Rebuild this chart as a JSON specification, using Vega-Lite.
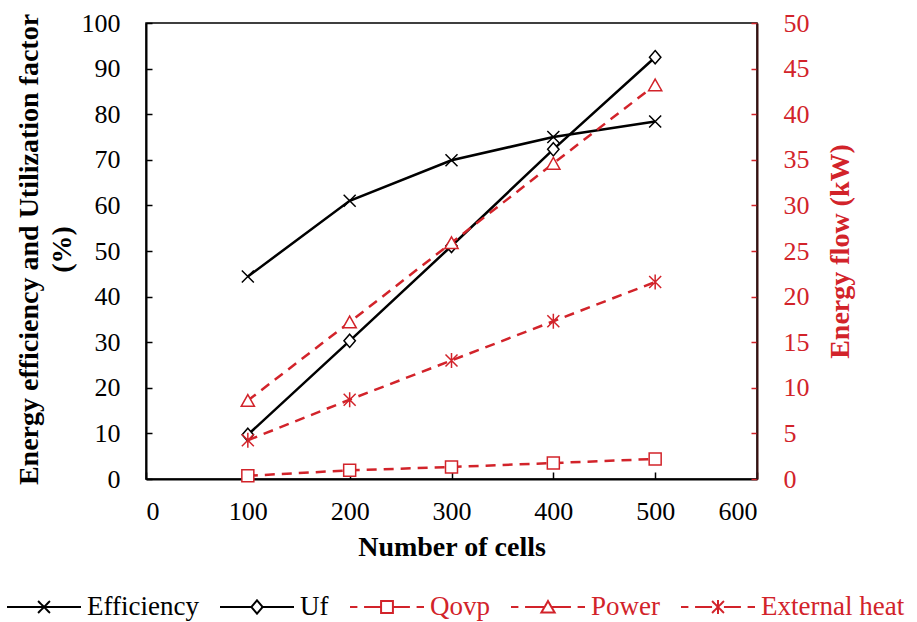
{
  "$schema": "https://vega.github.io/schema/vega-lite/v6.json",
  "width": 611,
  "height": 456,
  "autosize": "none",
  "padding": {"left": 146, "top": 23, "right": 160, "bottom": 143},
  "config": {
    "font": "Liberation Serif",
    "view": {"stroke": "black", "strokeWidth": 1.5},
    "axis": {"grid": false, "labelFont": "Liberation Serif", "titleFont": "Liberation Serif", "labelFontSize": 26, "titleFontSize": 28, "titleFontWeight": "bold", "labelColor": "black", "titleColor": "black", "domainColor": "black", "tickColor": "black", "domainWidth": 2, "tickWidth": 1.5},
    "legend": {"labelFont": "Liberation Serif", "labelFontSize": 27}
  },
  "datasets": {
    "left": [
      {"cells": 100, "series": "Efficiency", "value": 44.4},
      {"cells": 200, "series": "Efficiency", "value": 61.0},
      {"cells": 300, "series": "Efficiency", "value": 69.9},
      {"cells": 400, "series": "Efficiency", "value": 75.0},
      {"cells": 500, "series": "Efficiency", "value": 78.4},
      {"cells": 100, "series": "Uf", "value": 9.7},
      {"cells": 200, "series": "Uf", "value": 30.3},
      {"cells": 300, "series": "Uf", "value": 51.1},
      {"cells": 400, "series": "Uf", "value": 72.3},
      {"cells": 500, "series": "Uf", "value": 92.5}
    ],
    "right": [
      {"cells": 100, "series": "Qovp", "value": 0.35},
      {"cells": 200, "series": "Qovp", "value": 0.95},
      {"cells": 300, "series": "Qovp", "value": 1.32},
      {"cells": 400, "series": "Qovp", "value": 1.75},
      {"cells": 500, "series": "Qovp", "value": 2.2},
      {"cells": 100, "series": "Power", "value": 8.6},
      {"cells": 200, "series": "Power", "value": 17.2},
      {"cells": 300, "series": "Power", "value": 25.9},
      {"cells": 400, "series": "Power", "value": 34.6},
      {"cells": 500, "series": "Power", "value": 43.2},
      {"cells": 100, "series": "External heat", "value": 4.25},
      {"cells": 200, "series": "External heat", "value": 8.7},
      {"cells": 300, "series": "External heat", "value": 13.0},
      {"cells": 400, "series": "External heat", "value": 17.3},
      {"cells": 500, "series": "External heat", "value": 21.6}
    ]
  },
  "layer": [
    {
      "data": {"name": "left"},
      "encoding": {
        "x": {"field": "cells", "type": "quantitative", "scale": {"domain": [0, 600], "nice": false}, "title": "Number of cells",
          "axis": {"values": [0, 100, 200, 300, 400, 500, 600], "tickSize": -7, "labelPadding": 26, "titleY": 68, "titleBaseline": "middle"}},
        "y": {"field": "value", "type": "quantitative", "scale": {"domain": [0, 100], "nice": false},
          "axis": {"orient": "left", "values": [0, 10, 20, 30, 40, 50, 60, 70, 80, 90, 100], "tickSize": -6, "labelPadding": 32,
            "title": ["Energy efficiency and Utilization factor", "(%)"], "titleAngle": -90, "titleX": -117, "titleY": 226, "titleAlign": "center", "titleBaseline": "middle", "titleLineHeight": 33}}
      },
      "layer": [
        {"mark": {"type": "line", "strokeWidth": 2.5},
          "encoding": {
            "color": {"field": "series", "type": "nominal",
              "scale": {"domain": ["Efficiency", "Uf", "Qovp", "Power", "External heat"], "range": ["black", "black", "#D2232A", "#D2232A", "#D2232A"]},
              "legend": {
                "orient": "none", "direction": "horizontal", "legendX": -140, "legendY": 546, "title": null,
                "symbolSize": 5476, "symbolStrokeWidth": 2, "labelFont": "Liberation Serif", "labelFontSize": 27, "labelOffset": 5, "columnPadding": 17,
                "encode": {
                  "symbols": {"update": {
                    "shape": {"signal": "datum.value === 'Efficiency' ? 'M-1,0H1M-0.16,-0.16L0.16,0.16M-0.16,0.16L0.16,-0.16' : datum.value === 'Uf' ? 'M-1,0H-0.15M0.15,0H1M-0.15,0L0,-0.18L0.15,0L0,0.18Z' : datum.value === 'Qovp' ? 'M-1,0H-0.8M-0.62,0H-0.16M0.16,0H0.62M0.8,0H1M-0.16,-0.16H0.16V0.16H-0.16Z' : datum.value === 'Power' ? 'M-1,0H-0.8M-0.62,0H-0.1M0.1,0H0.62M0.8,0H1M0,-0.16L0.18,0.15H-0.18Z' : 'M-1,0H-0.8M-0.62,0H-0.16M0.16,0H0.62M0.8,0H1M-0.16,-0.16L0.16,0.16M-0.16,0.16L0.16,-0.16M0,-0.19V0.19'"},
                    "fill": {"value": "transparent"},
                    "strokeDash": {"value": [1, 0]},
                    "strokeWidth": {"value": 2}
                  }},
                  "labels": {"update": {
                    "font": {"value": "Liberation Serif"},
                    "fontSize": {"value": 27},
                    "fill": {"signal": "datum.value === 'Efficiency' || datum.value === 'Uf' ? 'black' : '#D2232A'"}}}
                }
              }}
          }},
        {"transform": [{"filter": "datum.series === 'Efficiency'"}],
          "mark": {"type": "point", "shape": "M-1,-1L1,1M-1,1L1,-1", "filled": false, "fill": "white", "stroke": "black", "opacity": 1, "size": 144, "strokeWidth": 1.5}},
        {"transform": [{"filter": "datum.series === 'Uf'"}],
          "mark": {"type": "point", "shape": "M0,-1.1L0.95,0L0,1.1L-0.95,0Z", "filled": false, "fill": "white", "fillOpacity": 1, "stroke": "black", "opacity": 1, "size": 144, "strokeWidth": 1.5}}
      ]
    },
    {
      "data": {"name": "right"},
      "encoding": {
        "x": {"field": "cells", "type": "quantitative", "scale": {"domain": [0, 600], "nice": false}, "title": "Number of cells",
          "axis": {"values": [0, 100, 200, 300, 400, 500, 600], "tickSize": -7, "labelPadding": 26, "titleY": 68, "titleBaseline": "middle"}},
        "y": {"field": "value", "type": "quantitative", "scale": {"domain": [0, 50], "nice": false},
          "axis": {"orient": "right", "values": [0, 5, 10, 15, 20, 25, 30, 35, 40, 45, 50], "tickSize": -6, "labelPadding": 32,
            "labelColor": "#D2232A", "tickColor": "#D2232A", "domainColor": "#3a1010", "titleColor": "#D2232A",
            "title": "Energy flow (kW)", "titleAngle": -90, "titleX": 83, "titleY": 228, "titleAlign": "center", "titleBaseline": "middle"}}
      },
      "layer": [
        {"mark": {"type": "line", "strokeWidth": 2.5, "strokeDash": [10, 7]},
          "encoding": {"color": {"field": "series", "type": "nominal"}}},
        {"transform": [{"filter": "datum.series === 'Qovp'"}],
          "mark": {"type": "point", "shape": "M-1,-1H1V1H-1Z", "filled": false, "fill": "white", "fillOpacity": 1, "stroke": "#D2232A", "opacity": 1, "size": 144, "strokeWidth": 1.5}},
        {"transform": [{"filter": "datum.series === 'Power'"}],
          "mark": {"type": "point", "shape": "M0,-1L1.1,0.95H-1.1Z", "filled": false, "fill": "white", "fillOpacity": 1, "stroke": "#D2232A", "opacity": 1, "size": 144, "strokeWidth": 1.5}},
        {"transform": [{"filter": "datum.series === 'External heat'"}],
          "mark": {"type": "point", "shape": "M-1,-1L1,1M-1,1L1,-1M0,-1.25V1.25", "filled": false, "fill": "white", "stroke": "#D2232A", "opacity": 1, "size": 144, "strokeWidth": 1.5}}
      ]
    }
  ],
  "resolve": {"scale": {"y": "independent"}}
}
